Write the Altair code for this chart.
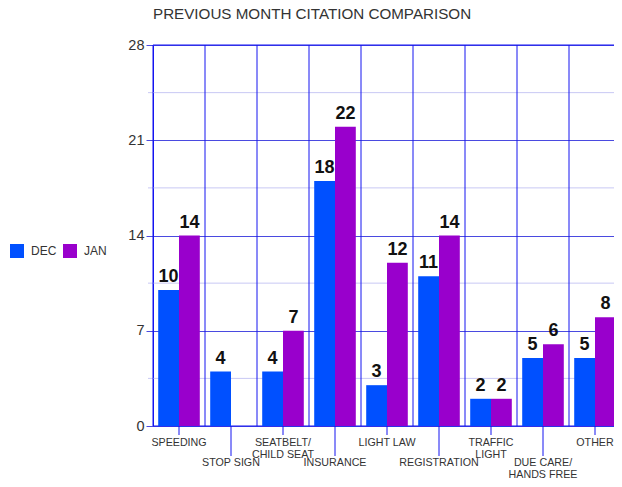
import altair as alt
import pandas as pd

categories = ["SPEEDING", "STOP SIGN", "SEATBELT/\nCHILD SEAT", "INSURANCE", "LIGHT LAW",
              "REGISTRATION", "TRAFFIC\nLIGHT", "DUE CARE/\nHANDS FREE", "OTHER"]
series = ["DEC", "JAN"]
dec_values = [10, 4, 4, 18, 3, 11, 2, 5, 5]
jan_values = [14, 0, 7, 22, 12, 14, 2, 6, 8]
y_major = [0, 7, 14, 21, 28]
y_minor = [3.5, 10.5, 17.5, 24.5]

F = "Liberation Sans"
PL, PT = 145, 37
W, H = 606 - PL, 381
PB = 471 - PT - H
XR = 468
VBLUE = "#1414f0"
MAJ = "#4a4ae0"
MIN = "#c8c8f4"

rows = []
for i, c in enumerate(categories):
    rows.append({"cat": c, "series": "DEC", "value": dec_values[i]})
    rows.append({"cat": c, "series": "JAN", "value": jan_values[i]})
df = pd.DataFrame(rows)
cat_df = pd.DataFrame({"cat": categories, "i": list(range(len(categories)))})

xscale = alt.Scale(domain=categories, range=[0, XR], paddingInner=0, paddingOuter=0)
yscale = alt.Scale(domain=[0, 28], nice=False, zero=True)
offscale = alt.Scale(domain=series, paddingOuter=0.25, paddingInner=0)

yaxis = alt.Axis(values=y_major, grid=True, gridColor=MAJ, gridWidth=1, domainColor=VBLUE,
                 tickColor=MAJ, tickSize=7, labelFontSize=14.5, labelColor="#333",
                 labelFont=F, labelPadding=2, title=None)

minor = alt.Chart(pd.DataFrame({"v": y_minor})).mark_rule(color=MIN, strokeWidth=1).encode(
    y=alt.Y("v:Q", scale=yscale, axis=yaxis), x=alt.value(-5), x2=alt.value(W))

vgrid = alt.Chart(cat_df).mark_rule(color=VBLUE, strokeWidth=1).encode(
    x=alt.X("cat:N", bandPosition=0, scale=xscale, axis=None),
    y=alt.value(0), y2=alt.value(H))

edges = alt.Chart(pd.DataFrame({"v": [0, 28]})).mark_rule(color=VBLUE, strokeWidth=1).encode(
    y=alt.Y("v:Q", scale=yscale), x=alt.value(0), x2=alt.value(W))

bars = alt.Chart(df).mark_bar(strokeWidth=0).encode(
    x=alt.X("cat:N", scale=xscale, axis=None),
    xOffset=alt.XOffset("series:N", scale=offscale),
    y=alt.Y("value:Q", scale=yscale),
    color=alt.Color("series:N",
                    scale=alt.Scale(domain=series, range=["#0050ff", "#9900cc"]),
                    legend=alt.Legend(orient="none", legendX=-143, legendY=199,
                                      direction="horizontal", title=None,
                                      symbolType="square", symbolSize=196,
                                      symbolStrokeWidth=0, symbolOpacity=1,
                                      labelFontSize=12, labelColor="#333", labelFont=F,
                                      labelOffset=7, columnPadding=6)))

vals = alt.Chart(df).transform_filter("datum.value > 0").mark_text(
    baseline="alphabetic", dy=-8, fontSize=18, fontWeight="bold", font=F, color="#111").encode(
    x=alt.X("cat:N", scale=xscale, axis=None),
    xOffset=alt.XOffset("series:N", scale=offscale),
    y=alt.Y("value:Q", scale=yscale),
    text="value:Q")

ticks_a = alt.Chart(cat_df).transform_filter("datum.i % 2 == 0").mark_rule(color=VBLUE).encode(
    x=alt.X("cat:N", scale=xscale, axis=None), y=alt.value(H), y2=alt.value(H + 9))
ticks_b = alt.Chart(cat_df).transform_filter("datum.i % 2 == 1").mark_rule(color=VBLUE).encode(
    x=alt.X("cat:N", scale=xscale, axis=None), y=alt.value(H), y2=alt.value(H + 30))

lab_a = alt.Chart(cat_df).transform_filter("datum.i % 2 == 0").mark_text(
    baseline="top", lineBreak="\n", fontSize=10.7, font=F, color="#333", lineHeight=11.5).encode(
    x=alt.X("cat:N", scale=xscale, axis=None), y=alt.value(H + 12), text="cat:N")
lab_b = alt.Chart(cat_df).transform_filter("datum.i % 2 == 1").mark_text(
    baseline="top", lineBreak="\n", fontSize=10.7, font=F, color="#333", lineHeight=11.5).encode(
    x=alt.X("cat:N", scale=xscale, axis=None), y=alt.value(H + 32), text="cat:N")

chart = alt.layer(minor, vgrid, edges, bars, vals, ticks_a, ticks_b, lab_a, lab_b).properties(
    width=W, height=H,
    title=alt.TitleParams("PREVIOUS MONTH CITATION COMPARISON", anchor="start", frame="group",
                          fontSize=15.2, fontWeight="normal", color="#333", font=F,
                          baseline="alphabetic", offset=3),
    autosize=alt.AutoSizeParams(type="none"),
    padding={"left": PL, "top": PT, "right": 0, "bottom": PB},
).configure_view(stroke=None)

chart.save("out.html", embed_options={"renderer": "svg", "actions": False})
